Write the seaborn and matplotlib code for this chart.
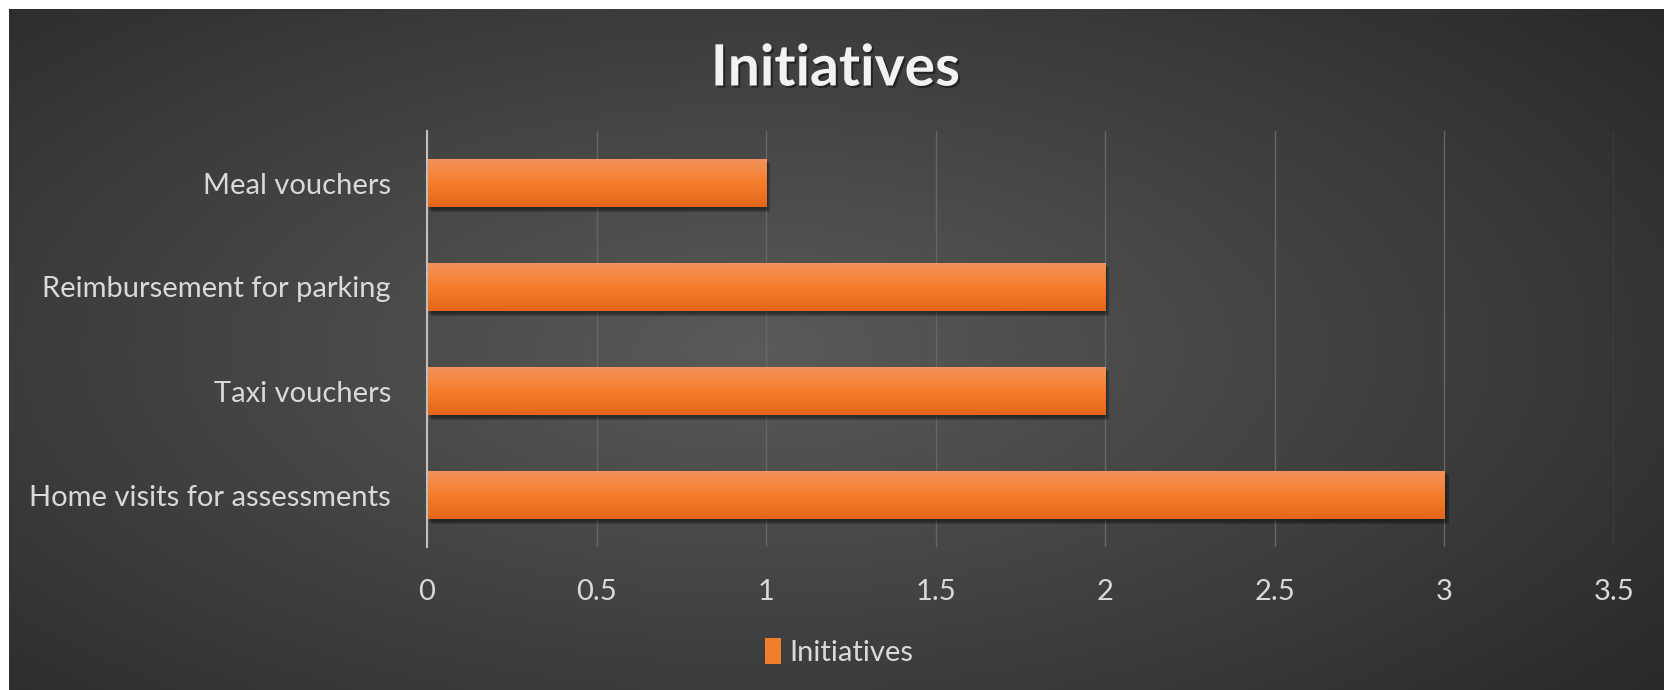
import numpy as np
import pandas as pd
import seaborn as sns
import matplotlib.pyplot as plt
import matplotlib.patheffects as pe
from matplotlib.patches import Patch

# data, top to bottom as in the chart
categories = ["Meal vouchers", "Reimbursement for parking", "Taxi vouchers", "Home visits for assessments"]
values = [1, 2, 2, 3]
series_name = "Initiatives"
x_ticks = [0, 0.5, 1, 1.5, 2, 2.5, 3, 3.5]

df = pd.DataFrame({"Category": categories, "Value": values})

sns.set_style("white")
plt.rcParams['font.family'] = ['Lato', 'DejaVu Sans']

fig = plt.figure(figsize=(16.65, 6.9), dpi=100)
fig.patch.set_facecolor("white")

# dark radial background, with thin white border at top/left
bg = fig.add_axes([9 / 1665, 0, 1 - 9 / 1665, 1 - 9 / 690])
bg.set_axis_off()
yy, xx = np.mgrid[0:1:300j, 0:1:700j]
r = np.sqrt(((xx - 0.45) / 0.75) ** 2 + ((yy - 0.5) / 0.85) ** 2)
r = np.clip(r, 0, 1)
inner = np.array([0x5a, 0x5a, 0x5a]) / 255
outer = np.array([0x26, 0x26, 0x26]) / 255
img = inner[None, None, :] * (1 - r[..., None]) + outer[None, None, :] * r[..., None]
bg.imshow(img, aspect="auto", extent=[0, 1, 0, 1], interpolation="bilinear")

ax = fig.add_axes([427 / 1665, 143 / 690, (1614 - 427) / 1665, (559 - 143) / 690])
ax.set_facecolor("none")

sns.barplot(data=df, x="Value", y="Category", color="#F07F2D", width=0.47, ax=ax,
            saturation=1, zorder=3, linewidth=0)

# gradient fill + soft drop shadow on each bar
top_c = np.array([0xF3, 0x93, 0x5C]) / 255
mid_c = np.array([0xF5, 0x7E, 0x2B]) / 255
bot_c = np.array([0xE3, 0x66, 0x18]) / 255
t = np.linspace(0, 1, 64)[:, None]
grad = np.where(t < 0.5, top_c * (1 - t * 2) + mid_c * (t * 2), mid_c * (2 - t * 2) + bot_c * (t * 2 - 1))
grad = grad[:, None, :]
for p in list(ax.patches):
    p.set_edgecolor("none")
    p.set_path_effects([pe.SimplePatchShadow(offset=(3, -3), shadow_rgbFace="black", alpha=0.25),
                        pe.SimplePatchShadow(offset=(1.5, -2), shadow_rgbFace="black", alpha=0.25),
                        pe.Normal()])
    x0, y0, w, h = p.get_x(), p.get_y(), p.get_width(), p.get_height()
    im = ax.imshow(grad, aspect="auto", extent=[x0, x0 + w, y0 + h, y0], origin="upper",
                   zorder=4, interpolation="bilinear")
    im.set_clip_path(p)

ax.set_xlim(0, 3.5)
ax.set_ylim(3.5, -0.5)
ax.set_xticks(x_ticks)
ax.set_xticklabels([f"{v:g}" for v in x_ticks])
ax.grid(axis="x", color="#666666", linewidth=1.0, zorder=0)
ax.grid(axis="y", visible=False)
for s in ["top", "right", "bottom"]:
    ax.spines[s].set_visible(False)
ax.spines["left"].set_color("#BFBFBF")
ax.spines["left"].set_linewidth(1.5)
ax.spines["left"].set_zorder(5)
ax.tick_params(axis="both", length=0, labelsize=21, labelcolor="#D9D9D9")
ax.tick_params(axis="x", pad=23)
ax.tick_params(axis="y", pad=26)
ax.set_xlabel("")
ax.set_ylabel("")

fig.text(0.502, 1 - 69 / 690, "Initiatives", ha="center", va="center", fontsize=41,
         fontweight="bold", color="#F2F2F2",
         path_effects=[pe.withSimplePatchShadow(offset=(1.5, -1.5), shadow_rgbFace="black", alpha=0.45)])

fig.legend(handles=[Patch(facecolor="#F07F2D", edgecolor="none")], labels=[series_name], loc="center",
           bbox_to_anchor=(0.504, 38 / 690), frameon=False, fontsize=21, labelcolor="#D9D9D9",
           handlelength=0.55, handleheight=1.0, handletextpad=0.3)

plt.savefig("out.png", dpi=100, facecolor=fig.get_facecolor())
